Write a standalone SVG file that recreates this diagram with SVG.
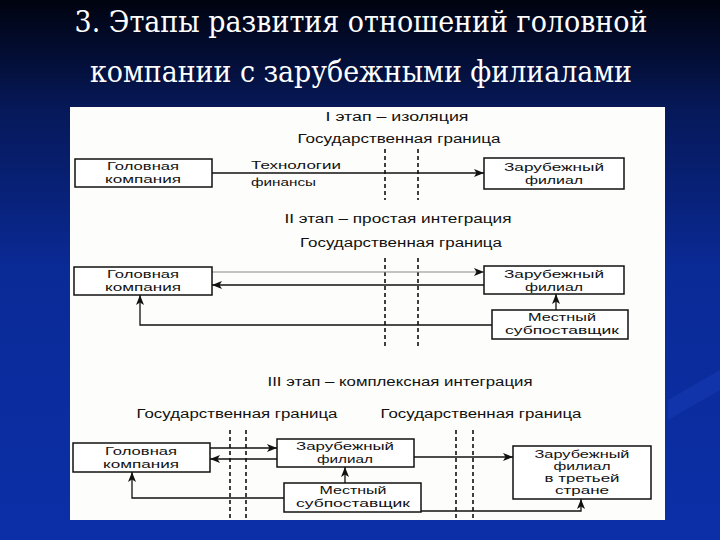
<svg xmlns="http://www.w3.org/2000/svg" width="720" height="540" viewBox="0 0 720 540">
<defs>
<linearGradient id="bg" x1="0" y1="0" x2="0" y2="1">
<stop offset="0" stop-color="#00030f"/>
<stop offset="0.2" stop-color="#061858"/>
<stop offset="0.5" stop-color="#0a2a96"/>
<stop offset="1" stop-color="#0c2fa8"/>
</linearGradient>
<marker id="ah" viewBox="0 0 10 8" refX="10" refY="4" markerWidth="10" markerHeight="8" markerUnits="userSpaceOnUse" orient="auto">
<path d="M0,0 L10,4 L0,8 L2.5,4 z" fill="#111"/>
</marker>
<style>
.t{font-family:"DejaVu Serif","Liberation Serif",serif;font-size:29px;fill:#ffffff}
.d{font-family:"Liberation Sans",Arial,sans-serif;font-size:12px;fill:#111}
.b{font-size:11px}
.c{text-anchor:middle}
.box{fill:#ffffff;stroke:#111;stroke-width:1.5}
.ln{fill:none;stroke:#111;stroke-width:1.3}
.gl{fill:none;stroke:#8a8a8a;stroke-width:1.2}
.dash{fill:none;stroke:#111;stroke-width:1.6;stroke-dasharray:4 3}
</style>
</defs>

<rect x="0" y="0" width="720" height="540" fill="url(#bg)"/>
<path d="M668,400 L720,370 L720,390 L668,420 Z" fill="#1a3cb8" opacity="0.5"/>

<g id="title">
<text class="t c" x="361" y="32" textLength="573" lengthAdjust="spacingAndGlyphs">3. Этапы развития отношений головной</text>
<text class="t c" x="361" y="82" textLength="542" lengthAdjust="spacingAndGlyphs">компании с зарубежными филиалами</text>
</g>

<rect id="panel" x="70" y="107" width="595" height="413" fill="#fdfdfb"/>

<g id="labels">
<text class="d c" x="397" y="121" textLength="143" lengthAdjust="spacingAndGlyphs">I этап – изоляция</text>
<text class="d c" x="399" y="143" textLength="203" lengthAdjust="spacingAndGlyphs">Государственная граница</text>
<text class="d b" x="251" y="169" textLength="90" lengthAdjust="spacingAndGlyphs">Технологии</text>
<text class="d b" x="251" y="186" textLength="65" lengthAdjust="spacingAndGlyphs">финансы</text>
<text class="d c" x="398" y="223" textLength="227" lengthAdjust="spacingAndGlyphs">II этап – простая интеграция</text>
<text class="d c" x="401" y="247" textLength="202" lengthAdjust="spacingAndGlyphs">Государственная граница</text>
<text class="d c" x="400" y="386" textLength="265" lengthAdjust="spacingAndGlyphs">III этап – комплексная интеграция</text>
<text class="d c" x="237" y="418" textLength="201" lengthAdjust="spacingAndGlyphs">Государственная граница</text>
<text class="d c" x="481" y="418" textLength="201" lengthAdjust="spacingAndGlyphs">Государственная граница</text>
</g>

<g id="borders">
<line class="dash" x1="385" y1="149" x2="385" y2="200"/>
<line class="dash" x1="418" y1="149" x2="418" y2="200"/>
<line class="dash" x1="385" y1="258" x2="385" y2="346"/>
<line class="dash" x1="418" y1="258" x2="418" y2="346"/>
<line class="dash" x1="230" y1="430" x2="230" y2="519"/>
<line class="dash" x1="246" y1="430" x2="246" y2="519"/>
<line class="dash" x1="456" y1="430" x2="456" y2="519"/>
<line class="dash" x1="473" y1="430" x2="473" y2="519"/>
</g>

<g id="connectors">
<line class="ln" x1="212" y1="173" x2="484" y2="173" marker-end="url(#ah)"/>
<line class="gl" x1="212" y1="272" x2="484" y2="272" marker-end="url(#ah)"/>
<line class="ln" x1="484" y1="285" x2="212" y2="285" marker-end="url(#ah)"/>
<line class="ln" x1="556" y1="310" x2="556" y2="294" marker-end="url(#ah)"/>
<polyline class="ln" points="492,325 140,325 140,295" marker-end="url(#ah)"/>
<line class="ln" x1="210" y1="448" x2="277" y2="448" marker-end="url(#ah)"/>
<line class="ln" x1="277" y1="459" x2="210" y2="459" marker-end="url(#ah)"/>
<line class="ln" x1="345" y1="483" x2="345" y2="467" marker-end="url(#ah)"/>
<polyline class="ln" points="284,498 132,498 132,472" marker-end="url(#ah)"/>
<line class="ln" x1="414" y1="457" x2="513" y2="457" marker-end="url(#ah)"/>
<polyline class="ln" points="421,511 581,511 581,499" marker-end="url(#ah)"/>
</g>

<g id="hq1">
<rect class="box" x="75" y="159" width="137" height="28"/>
<text class="d b c" x="143" y="170" textLength="72" lengthAdjust="spacingAndGlyphs">Головная</text>
<text class="d b c" x="143" y="183" textLength="76" lengthAdjust="spacingAndGlyphs">компания</text>
</g>
<g id="branch1">
<rect class="box" x="484" y="158" width="140" height="31"/>
<text class="d b c" x="554" y="171" textLength="100" lengthAdjust="spacingAndGlyphs">Зарубежный</text>
<text class="d b c" x="554" y="184" textLength="58" lengthAdjust="spacingAndGlyphs">филиал</text>
</g>

<g id="hq2">
<rect class="box" x="74" y="267" width="138" height="28"/>
<text class="d b c" x="143" y="278" textLength="72" lengthAdjust="spacingAndGlyphs">Головная</text>
<text class="d b c" x="143" y="291" textLength="76" lengthAdjust="spacingAndGlyphs">компания</text>
</g>
<g id="branch2">
<rect class="box" x="484" y="266" width="140" height="28"/>
<text class="d b c" x="554" y="278" textLength="100" lengthAdjust="spacingAndGlyphs">Зарубежный</text>
<text class="d b c" x="554" y="291" textLength="58" lengthAdjust="spacingAndGlyphs">филиал</text>
</g>
<g id="supplier2">
<rect class="box" x="492" y="310" width="136" height="29"/>
<text class="d b c" x="562" y="321" textLength="68" lengthAdjust="spacingAndGlyphs">Местный</text>
<text class="d b c" x="562" y="334" textLength="114" lengthAdjust="spacingAndGlyphs">субпоставщик</text>
</g>

<g id="hq3">
<rect class="box" x="73" y="443" width="137" height="29"/>
<text class="d b c" x="141" y="455" textLength="72" lengthAdjust="spacingAndGlyphs">Головная</text>
<text class="d b c" x="141" y="468" textLength="76" lengthAdjust="spacingAndGlyphs">компания</text>
</g>
<g id="branch3">
<rect class="box" x="277" y="439" width="137" height="28"/>
<text class="d b c" x="345" y="450" textLength="98" lengthAdjust="spacingAndGlyphs">Зарубежный</text>
<text class="d b c" x="345" y="463" textLength="56" lengthAdjust="spacingAndGlyphs">филиал</text>
</g>
<g id="supplier3">
<rect class="box" x="284" y="483" width="137" height="29"/>
<text class="d b c" x="353" y="494" textLength="67" lengthAdjust="spacingAndGlyphs">Местный</text>
<text class="d b c" x="353" y="507" textLength="114" lengthAdjust="spacingAndGlyphs">субпоставщик</text>
</g>
<g id="branch3rd">
<rect class="box" x="513" y="446" width="138" height="53"/>
<text class="d b c" x="582" y="458" textLength="95" lengthAdjust="spacingAndGlyphs">Зарубежный</text>
<text class="d b c" x="582" y="470" textLength="57" lengthAdjust="spacingAndGlyphs">филиал</text>
<text class="d b c" x="582" y="482" textLength="75" lengthAdjust="spacingAndGlyphs">в третьей</text>
<text class="d b c" x="582" y="494" textLength="54" lengthAdjust="spacingAndGlyphs">стране</text>
</g>
</svg>
